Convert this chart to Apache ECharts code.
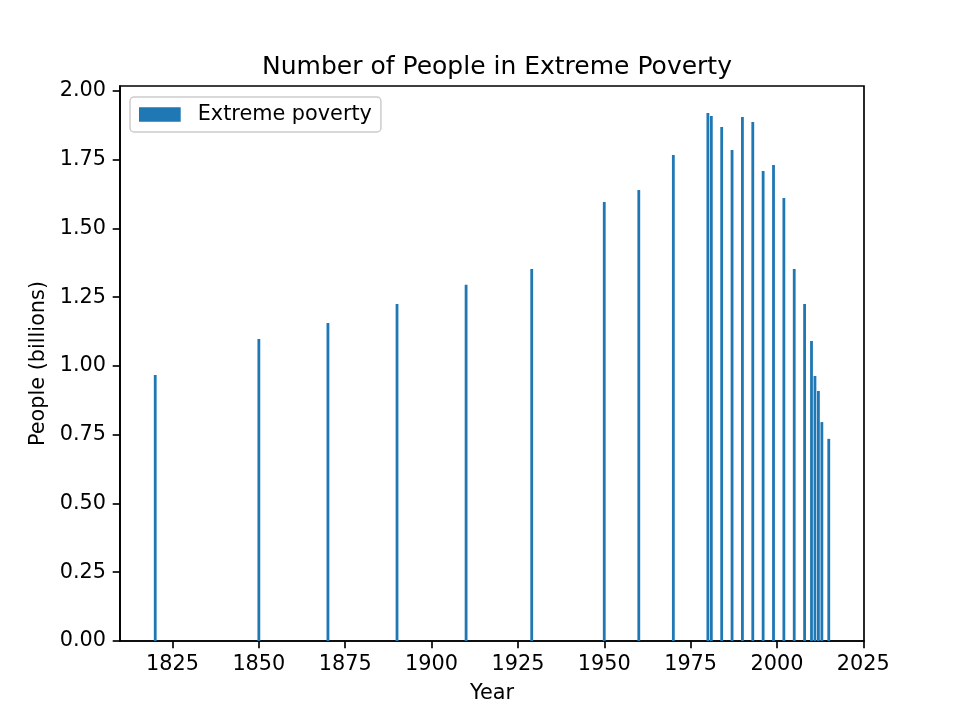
<!DOCTYPE html>
<html>
<head>
<meta charset="utf-8">
<script src="https://cdn.jsdelivr.net/npm/echarts@6/dist/echarts.min.js"></script>
<style>html,body{margin:0;padding:0;background:#fff}#c{width:960px;height:720px}</style>
</head>
<body>
<div id="c"></div>
<script>
const years = [1820, 1850, 1870, 1890, 1910, 1929, 1950, 1960, 1970, 1980, 1981, 1984, 1987, 1990, 1993, 1996, 1999, 2002, 2005, 2008, 2010, 2011, 2012, 2013, 2015];
const poverty = [0.967, 1.098, 1.156, 1.225, 1.295, 1.353, 1.596, 1.640, 1.767, 1.920, 1.909, 1.869, 1.785, 1.905, 1.887, 1.709, 1.731, 1.611, 1.353, 1.225, 1.091, 0.964, 0.909, 0.796, 0.735];
const xTicks = [1825, 1850, 1875, 1900, 1925, 1950, 1975, 2000, 2025];
const yTicks = [0, 0.25, 0.5, 0.75, 1.0, 1.25, 1.5, 1.75, 2.0];
const seriesName = 'Extreme poverty';
const titleText = 'Number of People in Extreme Poverty';
const xName = 'Year';
const yName = 'People (billions)';

const FONT = 'DejaVu Sans';
const fs = 20.8;
const lw = 1.67;
const chart = echarts.init(document.getElementById('c'), null, {renderer: 'canvas'});
chart.setOption({
  animation: false,
  backgroundColor: '#ffffff',
  title: {
    text: titleText, left: 492, top: 50, textAlign: 'center',
    textStyle: {fontFamily: FONT, fontSize: 25, fontWeight: 'normal', color: '#000'}
  },
  legend: {
    left: 130, top: 97, orient: 'vertical',
    itemWidth: 41.7, itemHeight: 14.6, icon: 'rect',
    padding: [7, 9, 7, 9],
    backgroundColor: 'rgba(255,255,255,0.8)',
    borderColor: '#cccccc', borderWidth: 1.5, borderRadius: 4,
    textStyle: {fontFamily: FONT, fontSize: fs, color: '#000', padding: [2, 0, 0, 12]},
    data: [seriesName]
  },
  grid: {left: 120, right: 96, top: 86, bottom: 79, show: true, borderColor: '#000', borderWidth: lw, containLabel: false},
  xAxis: {
    type: 'value', min: 1809.8, max: 2025.2,
    name: xName, nameLocation: 'middle', nameGap: 42,
    nameTextStyle: {fontFamily: FONT, fontSize: fs, color: '#000'},
    splitLine: {show: false},
    axisLine: {show: true, onZero: false, lineStyle: {color: '#000', width: lw}},
    axisTick: {show: true, length: 7.3, lineStyle: {color: '#000', width: lw}, customValues: xTicks},
    axisLabel: {fontFamily: FONT, fontSize: fs, color: '#000', margin: 13, customValues: xTicks, formatter: v => String(v)}
  },
  yAxis: {
    type: 'value', min: 0, max: 2.018,
    name: yName, nameLocation: 'middle', nameGap: 67, nameRotate: 90,
    nameTextStyle: {fontFamily: FONT, fontSize: fs, color: '#000'},
    splitLine: {show: false},
    axisLine: {show: true, lineStyle: {color: '#000', width: lw}},
    axisTick: {show: true, length: 7.3, lineStyle: {color: '#000', width: lw}, customValues: yTicks},
    axisLabel: {fontFamily: FONT, fontSize: fs, color: '#000', margin: 14, padding: [4, 0, 0, 0], customValues: yTicks, formatter: v => v.toFixed(2)}
  },
  series: [{
    name: seriesName, type: 'bar', barWidth: 2.8,
    itemStyle: {color: '#1f77b4'},
    data: years.map((y, i) => [y, poverty[i]])
  }]
});
</script>
</body>
</html>
